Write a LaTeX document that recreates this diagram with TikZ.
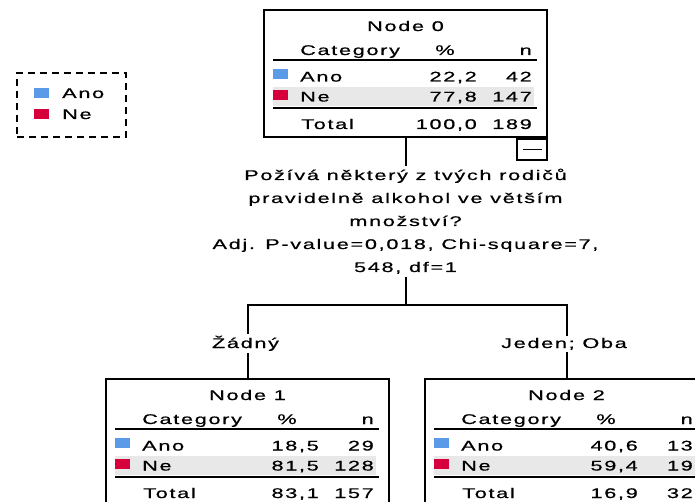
\documentclass[tikz,border=0pt]{standalone}
\usepackage{fontspec}
\setmainfont{Liberation Sans}[FakeStretch=1.55,LetterSpace=12,FakeBold=0.6]
\definecolor{anoblue}{HTML}{5A9AE6}
\definecolor{nered}{HTML}{D6003C}
\definecolor{bandgray}{HTML}{E8E8E8}
\tikzset{
  txt/.style={inner sep=0pt, font=\fontsize{14}{23}\selectfont},
  nodebox/.style={draw, line width=2pt, minimum width=283pt, minimum height=127pt, inner sep=0pt},
  rulel/.style={line width=2pt},
  conn/.style={line width=2pt},
  swatch/.style={inner sep=0pt, minimum width=15pt, minimum height=10pt, anchor=north west},
  edgelabel/.style={fill=white, inner sep=2pt, font=\fontsize{14}{23}\selectfont, anchor=base},
}
\newcommand\spssnode[8]{%
  \begin{scope}[shift={(#2)}]
    \fill[bandgray] (9,77) rectangle (270,96);
    \node[nodebox] (n#1) at (141.5,63.5) {};
    \node[txt, anchor=base] (n#1-title) at (141.5,21) {Node #1};
    \node[txt, anchor=base west] (n#1-cat) at (36,45) {Category};
    \node[txt, anchor=base] (n#1-pcth) at (181,45) {\%};
    \node[txt, anchor=base east] (n#1-nh) at (268,45) {n};
    \draw[rulel] (9,50) -- (273,50);
    \node[swatch, fill=anoblue] (n#1-sa) at (9,58.5) {};
    \node[txt, anchor=base west] (n#1-ano) at (36,71.5) {Ano};
    \node[txt, anchor=base east] (n#1-anop) at (213,71.5) {#3};
    \node[txt, anchor=base east] (n#1-anon) at (268,71.5) {#4};
    \node[swatch, fill=nered] (n#1-sn) at (9,79.5) {};
    \node[txt, anchor=base west] (n#1-ne) at (36,91.5) {Ne};
    \node[txt, anchor=base east] (n#1-nep) at (213,91.5) {#5};
    \node[txt, anchor=base east] (n#1-nen) at (268,91.5) {#6};
    \draw[rulel] (9,98) -- (273,98);
    \node[txt, anchor=base west] (n#1-tot) at (37,119) {Total};
    \node[txt, anchor=base east] (n#1-totp) at (213,119) {#7};
    \node[txt, anchor=base east] (n#1-totn) at (268,119) {#8};
  \end{scope}}
\begin{document}
\begin{tikzpicture}[x=1pt,y=-1pt]
  \clip (0,0) rectangle (695,502);
  \fill[white] (0,0) rectangle (695,502);
  % legend
  \node[draw, dash pattern=on 7pt off 5pt, line width=1.8pt, minimum width=109pt, minimum height=64pt, inner sep=0pt] (legend) at (71.5,105) {};
  \node[swatch, fill=anoblue] (leg-sa) at (34,88) {};
  \node[txt, anchor=base west] (leg-ano) at (62,98) {Ano};
  \node[swatch, fill=nered] (leg-sn) at (34,109) {};
  \node[txt, anchor=base west] (leg-ne) at (62,119) {Ne};
  % nodes
  \spssnode{0}{264,10}{22,2}{42}{77,8}{147}{100,0}{189}
  \spssnode{1}{106,379}{18,5}{29}{81,5}{128}{83,1}{157}
  \spssnode{2}{425,379}{40,6}{13}{59,4}{19}{16,9}{32}
  \node[draw, line width=2pt, minimum width=30pt, minimum height=21pt, inner sep=0pt, anchor=north east] (n0-toggle) at (n0.south east) {};
  \draw[line width=1.5pt] ([xshift=-9.5pt]n0-toggle.center) -- ([xshift=9.5pt]n0-toggle.center);
  % connectors
  \coordinate (j) at (405.5,305);
  \draw[conn] (n0.south) -- (j);
  \draw[conn] (j) -| (n1.north);
  \draw[conn] (j) -| (n2.north);
  \node[edgelabel, align=center, inner sep=3pt] (q) at (405.5,272) {Požívá některý z tvých rodičů\\pravidelně alkohol ve větším\\množství?\\Adj. P-value=0,018, Chi-square=7,\\548, df=1};
  \node[edgelabel] (l1) at (245.5,348) {Žádný};
  \node[edgelabel] (l2) at (564,348) {Jeden; Oba};
\end{tikzpicture}
\end{document}
